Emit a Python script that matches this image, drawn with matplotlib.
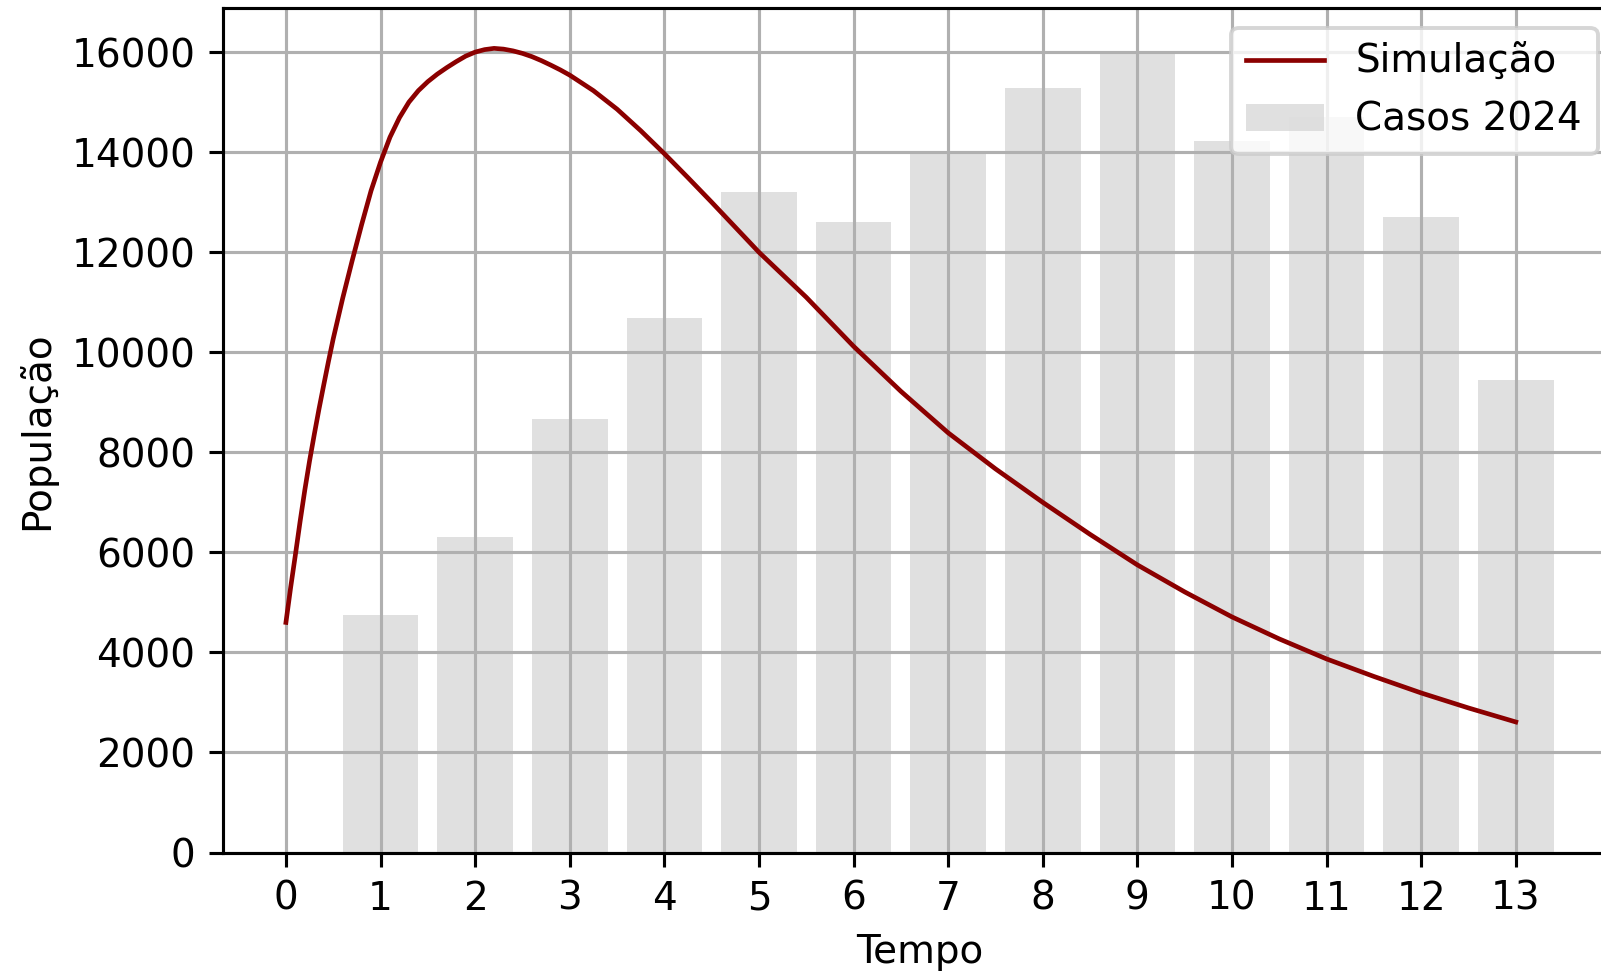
import matplotlib
matplotlib.use("Agg")
import matplotlib.pyplot as plt
import numpy as np

# casos semanais observados em 2024
semanas = [1, 2, 3, 4, 5, 6, 7, 8, 9, 10, 11, 12, 13]
casos_2024 = [4740, 6300, 8660, 10690, 13210, 12600, 13960, 15290, 15960, 14220, 14700, 12700, 9450]

# curva da simulação
tempo = [0, 0.05, 0.1, 0.15, 0.2, 0.25, 0.3, 0.35, 0.4, 0.45, 0.5, 0.6, 0.7, 0.8, 0.9,
         1.0, 1.1, 1.2, 1.3, 1.4, 1.5, 1.6, 1.7, 1.8, 1.9, 2.0, 2.1, 2.2, 2.3, 2.4, 2.5,
         2.6, 2.7, 2.8, 2.9, 3.0, 3.25, 3.5, 3.75, 4.0, 4.25, 4.5, 4.75, 5.0, 5.5, 6.0,
         6.5, 7.0, 7.5, 8.0, 8.5, 9.0, 9.5, 10.0, 10.5, 11.0, 11.5, 12.0, 12.5, 13.0]
simulacao = [4600, 5300, 5950, 6620, 7250, 7830, 8360, 8870, 9350, 9820, 10270, 11080,
             11830, 12550, 13230, 13800, 14300, 14690, 15000, 15230, 15410, 15560, 15690,
             15810, 15920, 16000, 16050, 16075, 16060, 16025, 15975, 15910, 15830, 15740,
             15645, 15540, 15230, 14860, 14430, 13970, 13490, 13000, 12500, 12000, 11100,
             10120, 9220, 8390, 7670, 7000, 6360, 5750, 5210, 4710, 4270, 3870, 3520, 3190,
             2890, 2610]

fig = plt.figure(figsize=(1601 / 280, 971 / 280), dpi=280)
ax = fig.add_axes([0.139, 0.122, 0.871, 0.8696])

ax.plot(tempo, simulacao, color="darkred", linewidth=1.2, label="Simulação")
ax.bar(semanas, casos_2024, color="lightgray", alpha=0.7, label="Casos 2024")

ax.set_xticks(range(14))
ax.set_xlabel("Tempo")
ax.set_ylabel("População")
ax.grid(True)
ax.legend(loc="upper right")

fig.savefig("out.png", dpi=280)
